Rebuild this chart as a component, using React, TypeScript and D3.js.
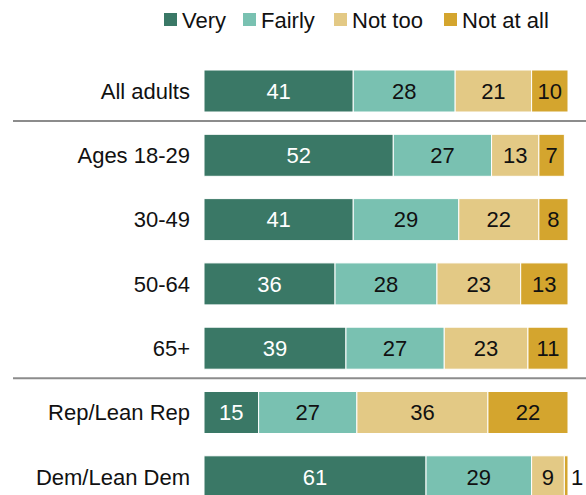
import React from "react";
import * as d3 from "d3";

const categories = ["All adults", "Ages 18-29", "30-49", "50-64", "65+", "Rep/Lean Rep", "Dem/Lean Dem"];
const seriesNames = ["Very", "Fairly", "Not too", "Not at all"];
const very = [41, 52, 41, 36, 39, 15, 61];
const fairly = [28, 27, 29, 28, 27, 27, 29];
const notToo = [21, 13, 22, 23, 23, 36, 9];
const notAtAll = [10, 7, 8, 13, 11, 22, 1];
const colors = ["#3a7866", "#79c1b1", "#e3c985", "#d4a52e"];
const textColors = ["#ffffff", "#111111", "#111111", "#111111"];
const separatorsAfter = ["All adults", "65+"];

const W = 586;
const H = 495;
const FONT = "'Liberation Sans', Arial, sans-serif";

export default function App() {
  const x = d3.scaleLinear().domain([0, 100]).range([204, 568]);
  const y = d3
    .scaleBand<string>()
    .domain(categories)
    .range([70, 70 + 6 * 64.3 + 42])
    .paddingInner(22.3 / 64.3)
    .paddingOuter(0);
  const series = [very, fairly, notToo, notAtAll];
  const rows = categories.map((c, i) => ({ c, vals: series.map((s) => s[i]) }));
  const stack = d3
    .stack<{ c: string; vals: number[] }, number>()
    .keys([0, 1, 2, 3])
    .value((d, k) => d.vals[k]);
  const stacked = stack(rows);

  const legendX = [164, 243, 334, 444];

  return (
    <svg
      width={W}
      height={H}
      style={{ position: "fixed", left: 0, top: 0, background: "#fff" }}
      fontFamily={FONT}
    >
      <g>
        {seriesNames.map((n, i) => (
          <g key={n}>
            <rect x={legendX[i]} y={13} width={13} height={13} fill={colors[i]} />
            <text x={legendX[i] + 18} y={27.5} fontSize={22} fill="#111">
              {n}
            </text>
          </g>
        ))}
      </g>
      {separatorsAfter.map((c) => {
        const yy = (y(c) as number) + y.bandwidth() + 9;
        return <line key={c} x1={13} x2={586} y1={yy} y2={yy} stroke="#8c8c8c" strokeWidth={2} />;
      })}
      {categories.map((c) => (
        <text
          key={c}
          x={190}
          y={(y(c) as number) + y.bandwidth() / 2}
          dy="0.35em"
          textAnchor="end"
          fontSize={22}
          fill="#111"
        >
          {c}
        </text>
      ))}
      {stacked.map((layer, k) => (
        <g key={k}>
          {layer.map((d, i) => {
            const x0 = x(d[0]);
            const x1 = x(d[1]);
            const yy = y(categories[i]) as number;
            const w = x1 - x0;
            const val = d[1] - d[0];
            const small = w < 12;
            return (
              <g key={i}>
                <rect x={x0} y={yy} width={w} height={y.bandwidth()} fill={colors[k]} stroke="#fff" strokeWidth={1} />
                <text
                  x={small ? x1 + 3 : (x0 + x1) / 2}
                  y={yy + y.bandwidth() / 2}
                  dy="0.35em"
                  textAnchor={small ? "start" : "middle"}
                  fontSize={22}
                  fill={small ? "#111" : textColors[k]}
                >
                  {val}
                </text>
              </g>
            );
          })}
        </g>
      ))}
    </svg>
  );
}
